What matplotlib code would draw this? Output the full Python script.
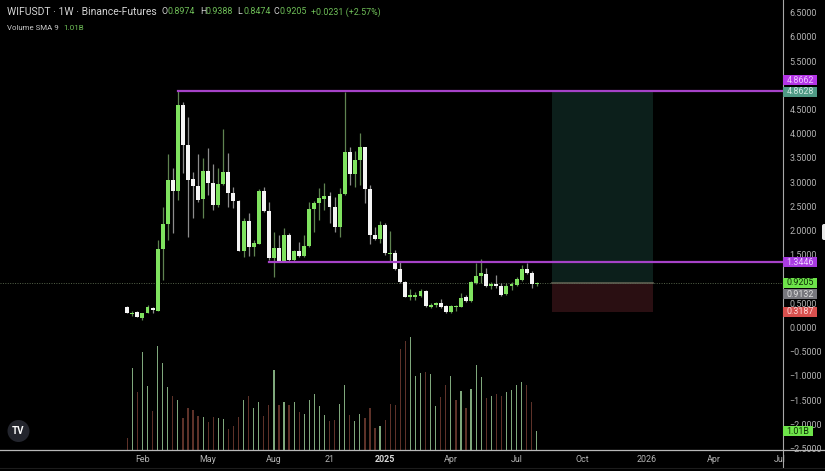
#!/usr/bin/python3
# coding=utf-8
import numpy as np
import matplotlib
matplotlib.use('Agg')
import matplotlib.pyplot as plt
from matplotlib.patches import Rectangle, Circle, FancyBboxPatch
from matplotlib.lines import Line2D

plt.rcParams['font.family'] = ['Roboto', 'DejaVu Sans']

# weekly candles
opens = [0.43, 0.286, 0.327, 0.203, 0.299, 0.402, 0.347, 1.62, 2.129, 3.044, 2.817, 4.592, 3.767, 3.065, 2.927, 2.645,
         3.223, 2.976, 2.521, 2.955, 3.203, 2.783, 2.604, 1.586, 2.198, 1.655, 1.73, 2.824, 2.411, 1.428, 1.634, 1.379,
         1.916, 1.393, 1.579, 1.476, 1.689, 2.446, 2.57, 2.653, 2.714, 2.494, 2.067, 2.749, 3.615, 3.168, 3.45, 3.726,
         2.851, 1.916, 1.827, 2.116, 1.517, 1.531, 1.207, 0.946, 0.636, 0.636, 0.65, 0.76, 0.43, 0.464, 0.513, 0.444,
         0.327, 0.416, 0.43, 0.623, 0.54, 0.912, 1.07, 1.104, 0.863, 0.891, 0.863, 0.685, 0.863, 0.877, 0.98, 1.214,
         1.125, 0.8974]
highs = [0.444, 0.341, 0.34, 0.31, 0.464, 0.416, 1.806, 2.494, 3.581, 3.299, 4.881, 4.661, 4.352, 3.216, 3.581, 3.505,
         3.698, 3.368, 3.285, 4.097, 3.595, 2.907, 2.632, 2.253, 2.37, 1.806, 2.85, 2.907, 2.583, 1.978, 1.909, 2.047,
         1.944, 1.60, 1.772, 1.909, 2.597, 2.61, 2.872, 2.976, 2.79, 2.70, 2.886, 4.868, 3.732, 3.65, 4.021, 3.73,
         2.941, 2.081, 2.198, 2.15, 1.992, 1.60, 1.359, 0.96, 0.788, 0.74, 0.788, 0.775, 0.499, 0.533, 0.581, 0.464,
         0.464, 0.464, 0.719, 0.671, 0.967, 1.324, 1.407, 1.221, 0.946, 1.084, 0.912, 0.912, 0.946, 1.049, 1.29, 1.324,
         1.173, 0.9388]
lows = [0.292, 0.244, 0.21, 0.155, 0.29, 0.292, 0.347, 0.98, 1.806, 1.944, 2.632, 3.182, 1.875, 2.253, 2.597, 2.253,
        2.735, 2.425, 2.494, 2.941, 2.494, 2.46, 1.57, 1.448, 1.476, 1.483, 1.72, 2.39, 1.393, 1.035, 1.359, 1.359,
        1.379, 1.379, 1.462, 1.448, 1.67, 1.978, 2.219, 2.425, 2.15, 1.964, 1.861, 2.73, 2.941, 2.907, 2.941, 2.563,
        1.717, 1.81, 1.737, 1.50, 1.359, 1.19, 0.91, 0.62, 0.568, 0.568, 0.623, 0.43, 0.396, 0.43, 0.396, 0.306,
        0.292, 0.347, 0.416, 0.52, 0.533, 0.898, 0.912, 0.843, 0.788, 0.808, 0.65, 0.671, 0.774, 0.857, 0.966, 1.104,
        0.822, 0.8474]
closes = [0.306, 0.306, 0.217, 0.299, 0.416, 0.361, 1.62, 2.129, 3.037, 2.817, 4.592, 3.767, 3.051, 2.927, 2.632, 3.223,
          2.976, 2.528, 2.962, 3.203, 2.776, 2.604, 1.586, 2.198, 1.655, 1.737, 2.824, 2.411, 1.428, 1.634, 1.379, 1.916,
          1.393, 1.579, 1.483, 1.689, 2.453, 2.577, 2.666, 2.714, 2.494, 2.067, 2.749, 3.615, 3.168, 3.45, 3.726, 2.851,
          1.909, 1.827, 2.116, 1.531, 1.531, 1.207, 0.946, 0.636, 0.671, 0.671, 0.76, 0.444, 0.464, 0.513, 0.43, 0.327,
          0.444, 0.451, 0.616, 0.54, 0.932, 1.07, 1.118, 0.863, 0.891, 0.857, 0.671, 0.863, 0.898, 0.994, 1.207, 1.125,
          0.898, 0.9205]

# volume in billions, 1 = green bar
volumes = [0.66, 4.41, 3.09, 5.23, 3.43, 2.09, 5.54, 4.64, 3.39, 2.89, 2.66, 1.73, 2.23, 2.14, 1.82, 1.79,
           1.52, 1.79, 1.73, 1.68, 1.11, 1.30, 1.79, 2.68, 2.89, 2.23, 2.59, 1.82, 2.38, 4.29, 2.38, 2.54,
           2.41, 2.54, 2.05, 1.93, 2.68, 3.02, 2.36, 1.89, 1.55, 1.61, 2.45, 3.48, 1.88, 1.55, 1.91, 1.73,
           2.27, 1.16, 1.30, 1.61, 2.46, 2.38, 5.41, 5.84, 6.04, 3.98, 4.14, 4.16, 4.07, 2.34, 2.84, 3.48,
           3.98, 2.66, 3.18, 2.23, 3.25, 4.52, 3.88, 2.77, 2.91, 2.98, 2.91, 3.09, 3.20, 3.48, 3.61, 3.48,
           2.59, 1.018]
vol_up = [0, 1, 0, 1, 1, 0, 1, 1, 1, 0, 1, 0, 0, 0, 0, 1,
          0, 0, 1, 1, 0, 0, 0, 1, 0, 1, 1, 0, 0, 1, 0, 1,
          0, 1, 0, 1, 1, 1, 1, 1, 0, 0, 1, 1, 0, 1, 1, 0,
          0, 0, 1, 0, 0, 0, 0, 0, 1, 1, 1, 0, 1, 1, 0, 0,
          1, 0, 1, 0, 1, 1, 1, 0, 1, 0, 0, 1, 1, 1, 1, 0,
          0, 1]

# levels
level_top = 4.8628
level_mid = 1.3446
level_last = 0.9205
level_stop = 0.3187
top_start, mid_start = 10, 28
box_start, box_end = 84, 104

xtick_pos = [3, 16, 29, 40, 51, 64, 77, 90, 102.7, 116, 129]
xtick_labels = ['Feb', 'May', 'Aug', '21', '2025', 'Apr', 'Jul', 'Oct', '2026', 'Apr', 'Jul']
# 5.0 and 1.0 sit fully behind the price tags
ytick_vals = [-2.5, -2.0, -1.5, -1.0, -0.5, 0.0, 0.5, 1.5, 2.0, 2.5, 3.0, 3.5, 4.0, 4.5, 5.5, 6.0, 6.5]

W, H = 825, 471
GREEN = '#7fe25f'
WHITE = '#f4f4f4'
PURPLE = '#a642c8'

fig = plt.figure(figsize=(W / 100, H / 100), dpi=100, facecolor='black')
ax = fig.add_axes([0, 1 - 450 / H, 783 / W, 450 / H], facecolor='black')
ax.set_xlim(-25.18, 129.7)
ax.set_ylim(-2.528, 6.76)

# volume sits in the same box, own scale
vax = ax.twinx()
vax.set_ylim(0, 24.06)
vax.axis('off')
ax.set_zorder(2)
vax.set_zorder(1)
ax.patch.set_visible(False)
vax.patch.set_visible(False)
fig.patch.set_facecolor('black')

idx = np.arange(len(opens))
o, h, l, c = map(np.array, (opens, highs, lows, closes))
up = c >= o

vol = np.array(volumes)
flags = np.array(vol_up) == 1
vax.bar(idx[flags], vol[flags], width=0.24, color='#7fa87c')
vax.bar(idx[~flags], vol[~flags], width=0.24, color='#5e3229')

# position box
ax.add_patch(Rectangle((box_start, level_last), box_end - box_start, level_top - level_last,
                       facecolor='#0c1f1b', edgecolor='none', zorder=1))
ax.add_patch(Rectangle((box_start, level_stop), box_end - box_start, level_last - level_stop,
                       facecolor='#2a0f12', edgecolor='none', zorder=1))
ax.plot([box_start, box_end], [level_last, level_last], color='#5f6052', lw=1.2, zorder=2)

ax.axhline(level_last, color='#55634a', lw=0.7, ls=(0, (1, 1.5)), zorder=1.5)

# candles
ax.vlines(idx[up], l[up], h[up], color='#5f8350', lw=0.9, zorder=3)
ax.vlines(idx[~up], l[~up], h[~up], color='#8c8c8c', lw=0.9, zorder=3)
ax.bar(idx[up], c[up] - o[up], bottom=o[up], width=0.78, color=GREEN, zorder=4)
ax.bar(idx[~up], o[~up] - c[~up], bottom=c[~up], width=0.78, color=WHITE, zorder=4)

ax.plot([top_start, 129.7], [level_top + 0.02, level_top + 0.02], color=PURPLE, lw=1.6, zorder=5)
ax.plot([mid_start, 129.7], [level_mid, level_mid], color=PURPLE, lw=1.6, zorder=5)

ax.yaxis.tick_right()
ax.set_yticks(ytick_vals)
ax.set_yticklabels([('\u2212%.4f' % -v) if v < 0 else '%.4f' % v for v in ytick_vals],
                   fontsize=6.4, color='#b4b4b4')
ax.set_xticks(xtick_pos)
ax.set_xticklabels(xtick_labels, fontsize=6.4, color='#b4b4b4')
ax.get_xticklabels()[4].set_fontweight('bold')
ax.get_xticklabels()[4].set_color('#d8d8d8')
ax.tick_params(length=0)
ax.tick_params(axis='x', pad=3.5)
ax.tick_params(axis='y', pad=4.5)
for s in ax.spines.values():
    s.set_visible(False)


def px(x, y):
    return x / W, 1 - y / H


# axis lines reach past the plot
fig.add_artist(Line2D([783 / W, 783 / W], [1 - 467 / H, 1], color='#a8a8a8', lw=0.8, zorder=2))
fig.add_artist(Line2D([0, 1], [1 - 450 / H, 1 - 450 / H], color='#b8b8b8', lw=0.9, zorder=2))
fig.add_artist(Line2D([0, 1], [1 - 467.5 / H, 1 - 467.5 / H], color='#1c1c1c', lw=0.8, zorder=2))

# price tags: text, centre row in pixels, fill, text colour, right edge
tags = [('4.8662', 80, '#b435e6', '#efc6ff', 817),
        ('4.8628', 91.5, '#4f9a85', '#cfe9e0', 817),
        ('1.3446', 262, '#a83be0', '#ecd0ff', 817),
        ('0.9205', 282.7, '#6ee44a', '#0b2a05', 817),
        ('0.9132', 294, '#77777d', '#dddddd', 817),
        ('0.3187', 311.7, '#d8504e', '#ffd8d8', 817),
        ('1.01B', 431, '#6ee44a', '#0b2a05', 813)]
for txt, yc, fill, tc, xr in tags:
    x0, y0 = px(783, yc + 5)
    fig.add_artist(Rectangle((x0, y0), (xr - 783) / W, 10 / H, transform=fig.transFigure,
                             facecolor=fill, edgecolor='none', zorder=3))
    fig.text((783 + xr) / 2 / W, 1 - (yc + 0.2) / H, txt, color=tc, fontsize=6.4, ha='center', va='center', zorder=4)

# header
hdr = [(7, 'WIFUSDT \u00b7 1W \u00b7 Binance-Futures', '#d4d4d4', 7.5, 12),
       (162, 'O', '#d4d4d4', 6.4, 12), (168, '0.8974', '#6fbf58', 6.4, 12),
       (200, 'H', '#d4d4d4', 6.4, 12), (206, '0.9388', '#6fbf58', 6.4, 12),
       (237, 'L', '#d4d4d4', 6.4, 12), (243, '0.8474', '#6fbf58', 6.4, 12),
       (273, 'C', '#d4d4d4', 6.4, 12), (279, '0.9205', '#6fbf58', 6.4, 12),
       (311, '+0.0231 (+2.57%)', '#6fbf58', 6.4, 12),
       (7, 'Volume SMA 9', '#c8c8c8', 5.7, 27.5), (63, '1.01B', '#6fbf58', 5.9, 27.5)]
for x, txt, col, size, y in hdr:
    fig.text(x / W, 1 - y / H, txt, color=col, fontsize=size, ha='left', va='center', zorder=4)

# logo
fig.add_artist(Circle((18.5, H - 431), 11, transform=None, facecolor='#23252d', edgecolor='none', zorder=3))
fig.text(18.5 / W, 1 - 431 / H, 'TV', color='white', fontsize=7, fontweight='bold', ha='center', va='center', zorder=4)

# white tab at the right edge
fig.add_artist(FancyBboxPatch((822, H - 240), 6, 16, boxstyle='round,pad=0,rounding_size=2', transform=None,
                              facecolor='#e8e8e8', edgecolor='none', zorder=3))

fig.savefig('out.png', dpi=100, facecolor='black')
